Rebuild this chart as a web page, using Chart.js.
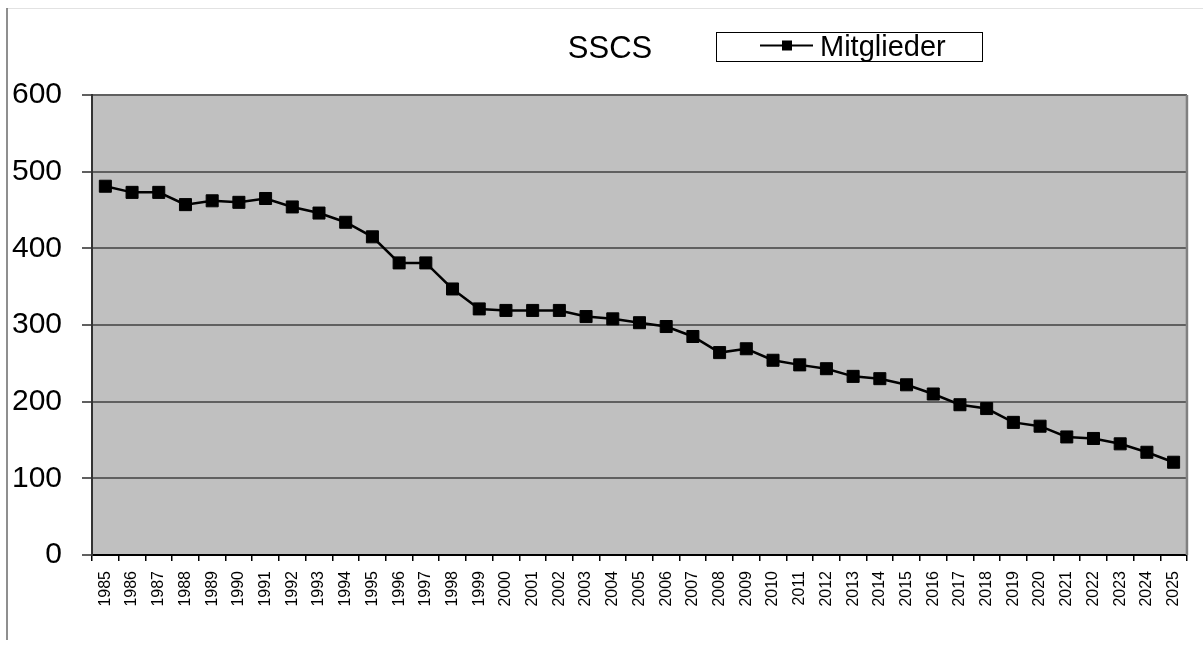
<!DOCTYPE html>
<html>
<head>
<meta charset="utf-8">
<script src="https://cdn.jsdelivr.net/npm/chart.js@4"></script>
<style>
  body { margin: 0; background: #fff; }
  canvas { display: block; }
</style>
</head>
<body>
<canvas id="myChart" width="1203" height="646"></canvas>
<script>
// data
const years = ['1985','1986','1987','1988','1989','1990','1991','1992','1993','1994',
  '1995','1996','1997','1998','1999','2000','2001','2002','2003','2004',
  '2005','2006','2007','2008','2009','2010','2011','2012','2013','2014',
  '2015','2016','2017','2018','2019','2020','2021','2022','2023','2024','2025'];
const mitglieder = [481, 473, 473, 457, 462, 460, 465, 454, 446, 434,
  415, 381, 381, 347, 321, 319, 319, 319, 311, 308,
  303, 298, 285, 264, 269, 254, 248, 243, 233, 230,
  222, 210, 196, 191, 173, 168, 154, 152, 145, 134, 121];
const yTicks = [0, 100, 200, 300, 400, 500, 600];
const chartTitle = 'SSCS';

const FONT = '"Liberation Sans", Arial, sans-serif';
const NARROW = '"Liberation Sans Narrow", "Liberation Sans", Arial, sans-serif';
const ctx = document.getElementById('myChart');

// grey plot background, frame bits, title and legend box
const decor = {
  id: 'decor',
  beforeDraw(chart) {
    const c = chart.ctx, a = chart.chartArea;
    c.save();
    c.fillStyle = '#c0c0c0';
    c.fillRect(a.left, a.top, a.right - a.left, a.bottom - a.top);
    // outer frame
    c.strokeStyle = '#e2e2e2';
    c.lineWidth = 1;
    c.beginPath(); c.moveTo(7, 8.5); c.lineTo(1203, 8.5); c.stroke();
    c.strokeStyle = '#6a6a6a';
    c.lineWidth = 1.5;
    c.beginPath(); c.moveTo(7, 8); c.lineTo(7, 640); c.stroke();
    c.restore();
  },
  beforeDatasetsDraw(chart) {
    const c = chart.ctx, a = chart.chartArea;
    c.save();
    c.strokeStyle = '#808080';
    c.lineWidth = 2.5;
    c.beginPath(); c.moveTo(a.right, a.top); c.lineTo(a.right, a.bottom); c.stroke();
    c.restore();
  },
  afterDraw(chart) {
    const c = chart.ctx;
    c.save();
    c.fillStyle = '#000';
    c.font = '31px ' + FONT;
    c.textAlign = 'center';
    c.textBaseline = 'alphabetic';
    c.fillText(chartTitle, 610, 58);
    // legend
    c.strokeStyle = '#000';
    c.lineWidth = 1;
    c.strokeRect(716.5, 32.5, 266, 29);
    c.lineWidth = 2;
    c.beginPath(); c.moveTo(760, 45.5); c.lineTo(813, 45.5); c.stroke();
    c.fillRect(782, 40.5, 10, 10);
    c.font = '29px ' + FONT;
    c.textAlign = 'left';
    c.fillText(chart.data.datasets[0].label, 820, 56);
    c.restore();
  }
};

new Chart(ctx, {
  type: 'line',
  data: {
    labels: years,
    datasets: [{
      label: 'Mitglieder',
      data: mitglieder,
      borderColor: '#000',
      borderWidth: 2.5,
      backgroundColor: '#000',
      pointStyle: 'rect',
      pointRadius: 8.5,
      pointBorderWidth: 1,
      pointBorderColor: '#000',
      pointBackgroundColor: '#000',
      tension: 0,
      fill: false
    }]
  },
  options: {
    responsive: false,
    animation: false,
    layout: { padding: { top: 95, right: 16, left: 0, bottom: 0 } },
    plugins: {
      legend: { display: false },
      title: { display: false },
      tooltip: { enabled: false }
    },
    scales: {
      x: {
        type: 'category',
        offset: true,
        afterFit: s => { s.height = 91; },
        grid: {
          offset: true,
          drawOnChartArea: false,
          drawTicks: true,
          tickLength: 6,
          tickColor: '#000',
          lineWidth: 1.5
        },
        border: { color: '#000', width: 2 },
        ticks: {
          autoSkip: false,
          minRotation: 90,
          maxRotation: 90,
          padding: 10,
          color: '#000',
          font: { family: NARROW, size: 16 }
        }
      },
      y: {
        min: 0,
        max: 600,
        afterFit: s => { s.width = 92; },
        afterBuildTicks: s => { s.ticks = yTicks.map(v => ({ value: v })); },
        grid: {
          color: '#606060',
          lineWidth: 2,
          tickLength: 10,
          tickColor: '#606060'
        },
        border: { color: '#333', width: 2 },
        ticks: {
          padding: 20,
          color: '#000',
          font: { family: FONT, size: 30 }
        }
      }
    }
  },
  plugins: [decor]
});
</script>
</body>
</html>
